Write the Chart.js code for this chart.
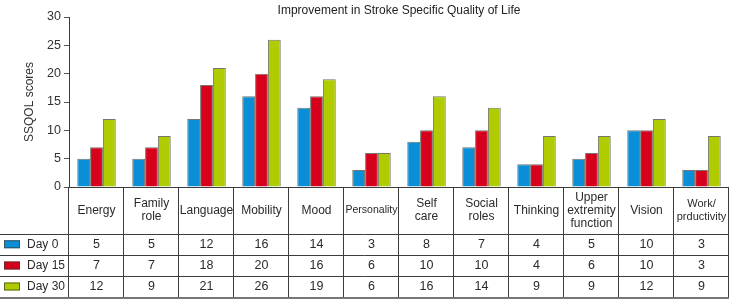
<!DOCTYPE html>
<html>
<head>
<meta charset="utf-8">
<script src="https://cdn.jsdelivr.net/npm/chart.js@4/dist/chart.umd.min.js"></script>
<style>
  html, body { margin: 0; padding: 0; background: #fff; }
  #wrap { width: 735px; height: 305px; }
</style>
</head>
<body>
<div id="wrap"><canvas id="ssqol"></canvas></div>
<script>
// Domains of the SSQOL scale (multi-line header labels for the table)
const domains = [
    ['Energy'], ['Family', 'role'], ['Language'], ['Mobility'], ['Mood'], ['Personality'],
    ['Self', 'care'], ['Social', 'roles'], ['Thinking'], ['Upper', 'extremity', 'function'],
    ['Vision'], ['Work/', 'prductivity']
];
const seriesNames = ['Day 0', 'Day 15', 'Day 30'];
const day0 = [5, 5, 12, 16, 14, 3, 8, 7, 4, 5, 10, 3];
const day15 = [7, 7, 18, 20, 16, 6, 10, 10, 4, 6, 10, 3];
const day30 = [12, 9, 21, 26, 19, 6, 16, 14, 9, 9, 12, 9];
const yTicks = [0, 5, 10, 15, 20, 25, 30];

const colors = ['#0a8ed8', '#d6001c', '#b0cc00'];
const edge = 'rgba(60, 60, 45, 0.7)';
const FONT = '"Liberation Sans", Arial, sans-serif';

// Draws the title and the data table under the plot
const tablePlugin = {
    id: 'dataTable',
    afterDraw(chart) {
        const ctx = chart.ctx;
        const area = chart.chartArea;
        const x = chart.scales.x;
        const rows = chart.data.datasets;
        const colW = (area.right - area.left) / domains.length;
        const rowLines = [233.5, 255, 276, 297];

        ctx.save();

        // title
        ctx.fillStyle = '#222';
        ctx.font = '12px ' + FONT;
        ctx.textAlign = 'center';
        ctx.textBaseline = 'middle';
        ctx.fillText('Improvement in Stroke Specific Quality of Life', (area.left + area.right) / 2, 11);

        // grid of the table
        ctx.strokeStyle = '#3c3c3c';
        ctx.lineWidth = 1;
        ctx.beginPath();
        ctx.moveTo(area.left, area.bottom + 0.5);
        ctx.lineTo(area.right, area.bottom + 0.5);
        for (let i = 0; i <= domains.length; i++) {
            const gx = Math.round(area.left + i * colW) - 0.5;
            ctx.moveTo(gx, area.bottom);
            ctx.lineTo(gx, rowLines[3]);
        }
        rowLines.slice(0, 3).forEach(ly => {
            ctx.moveTo(0, Math.round(ly) + 0.5);
            ctx.lineTo(area.right, Math.round(ly) + 0.5);
        });
        ctx.stroke();
        ctx.strokeStyle = '#777';
        ctx.lineWidth = 2;
        ctx.beginPath();
        ctx.moveTo(0, 298);
        ctx.lineTo(area.right, 298);
        ctx.stroke();

        // header labels
        ctx.fillStyle = '#2a2a2a';
        domains.forEach((lines, i) => {
            const cx = x.getPixelForValue(i);
            let size = 12;
            if (lines[0] === 'Personality') size = 10.5;
            if (lines[0] === 'Work/') size = 11;
            ctx.font = size + 'px ' + FONT;
            const lh = 13;
            const mid = (area.bottom + rowLines[0]) / 2;
            const start = mid - (lines.length - 1) * lh / 2;
            lines.forEach((t, k) => ctx.fillText(t, cx, start + k * lh));
        });

        // data rows with legend keys
        rows.forEach((ds, r) => {
            const cy = (rowLines[r] + rowLines[r + 1]) / 2 + 0.5;
            ctx.fillStyle = ds.backgroundColor;
            ctx.fillRect(4, cy - 4.5, 16, 8);
            ctx.strokeStyle = edge;
            ctx.lineWidth = 1;
            ctx.strokeRect(4.5, cy - 4, 15, 7);
            ctx.fillStyle = '#2a2a2a';
            ctx.font = '12px ' + FONT;
            ctx.textAlign = 'left';
            ctx.fillText(ds.label, 27, cy);
            ctx.font = '12.5px ' + FONT;
            ctx.textAlign = 'center';
            ds.data.forEach((v, i) => ctx.fillText(String(v), x.getPixelForValue(i), cy));
        });

        ctx.restore();
    }
};

new Chart(document.getElementById('ssqol'), {
    type: 'bar',
    data: {
        labels: domains.map(d => d.join(' ')),
        datasets: [
            { label: seriesNames[0], data: day0, backgroundColor: colors[0], borderColor: edge, borderWidth: 1 },
            { label: seriesNames[1], data: day15, backgroundColor: colors[1], borderColor: edge, borderWidth: 1 },
            { label: seriesNames[2], data: day30, backgroundColor: colors[2], borderColor: edge, borderWidth: 1 }
        ]
    },
    options: {
        responsive: true,
        maintainAspectRatio: false,
        animation: false,
        layout: { padding: { top: 17, right: 6, bottom: 118, left: 0 } },
        datasets: { bar: { categoryPercentage: 0.7, barPercentage: 1.0 } },
        plugins: {
            legend: { display: false },
            tooltip: { enabled: false }
        },
        scales: {
            x: { display: false },
            y: {
                min: 0,
                max: 30,
                afterBuildTicks: scale => { scale.ticks = yTicks.map(v => ({ value: v })); },
                afterFit: scale => { scale.width = 69; },
                grid: { drawOnChartArea: false, tickLength: 5, color: '#555' },
                border: { color: '#3c3c3c' },
                ticks: { color: '#333', padding: 3, font: { family: FONT, size: 12.5 } },
                title: {
                    display: true,
                    text: 'SSQOL scores',
                    color: '#333',
                    font: { family: FONT, size: 12 },
                    padding: { top: 22, bottom: 0 }
                }
            }
        }
    },
    plugins: [tablePlugin]
});
</script>
</body>
</html>
